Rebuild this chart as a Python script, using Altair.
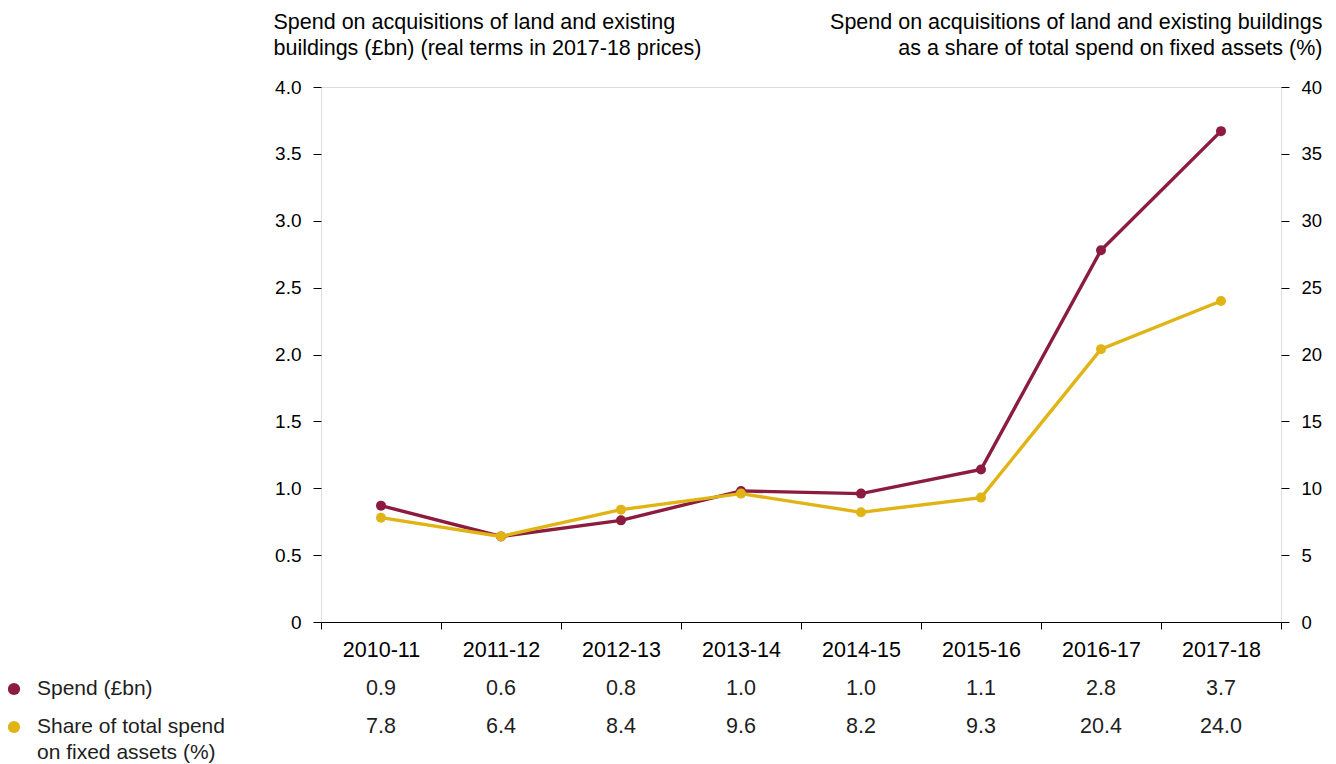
import altair as alt
import pandas as pd

years = ["2010-11", "2011-12", "2012-13", "2013-14", "2014-15", "2015-16", "2016-17", "2017-18"]
spend = [0.87, 0.64, 0.76, 0.98, 0.96, 1.14, 2.78, 3.67]
share = [7.8, 6.4, 8.4, 9.6, 8.2, 9.3, 20.4, 24.0]

series_names = ["Spend (£bn)", "Share of total spend\non fixed assets (%)"]
series_colors = ["#8C1C3F", "#E0B414"]

left_title = ["Spend on acquisitions of land and existing",
              "buildings (£bn) (real terms in 2017-18 prices)"]
right_title = ["Spend on acquisitions of land and existing buildings",
               "as a share of total spend on fixed assets (%)"]

FONT = "Liberation Sans"
TXT = "#1e1e1e"
BIG = 21.5

df = pd.DataFrame({"year": years, "spend": spend, "share": share})

xenc = alt.X(
    "year:N", sort=years,
    scale=alt.Scale(type="band", paddingInner=0, paddingOuter=0),
    axis=alt.Axis(title=None, labelAngle=0, tickBand="extent", tickSize=7,
                  labelPadding=10, domainColor="#000", tickColor="#000",
                  labelFontSize=BIG, grid=False),
)

base = alt.Chart(df)

spend_line = base.mark_line(
    color=series_colors[0], strokeWidth=3.4,
    point=alt.OverlayMarkDef(filled=True, size=100, color=series_colors[0], opacity=1),
).encode(
    x=xenc,
    y=alt.Y("spend:Q", scale=alt.Scale(domain=[0, 4], nice=False),
            axis=alt.Axis(title=left_title, values=[0, 0.5, 1, 1.5, 2, 2.5, 3, 3.5, 4],
                          labelExpr="datum.value == 0 ? '0' : format(datum.value, '.1f')",
                          domain=False, tickSize=8, tickColor="#000", labelPadding=12,
                          grid=False, orient="left", titleAngle=0, titleAlign="left",
                          titleBaseline="alphabetic", titleX=-48, titleY=-59,
                          titleLineHeight=26.5, titleFontSize=BIG, titleFontWeight="normal",
                          labelFontSize=19)),
)

share_line = base.mark_line(
    color=series_colors[1], strokeWidth=3.4,
    point=alt.OverlayMarkDef(filled=True, size=100, color=series_colors[1], opacity=1),
).encode(
    x=xenc,
    y=alt.Y("share:Q", scale=alt.Scale(domain=[0, 40], nice=False),
            axis=alt.Axis(title=right_title, values=[0, 5, 10, 15, 20, 25, 30, 35, 40],
                          format="d", domain=False, tickSize=8, tickColor="#000",
                          labelPadding=12, grid=False, orient="right", titleAngle=0,
                          titleAlign="right", titleBaseline="alphabetic", titleX=41,
                          titleY=-59, titleLineHeight=26.5, titleFontSize=BIG,
                          titleFontWeight="normal", labelFontSize=18.5)),
)

row1 = base.mark_text(fontSize=BIG, font=FONT, color=TXT, baseline="middle").encode(
    x=alt.X("year:N", sort=years), y=alt.value(602), text=alt.Text("spend:Q", format=".1f"))
row2 = base.mark_text(fontSize=BIG, font=FONT, color=TXT, baseline="middle").encode(
    x=alt.X("year:N", sort=years), y=alt.value(640), text=alt.Text("share:Q", format=".1f"))

leg_df = pd.DataFrame({"name": series_names, "color": series_colors})

leg_dot1 = alt.Chart(leg_df.iloc[[0]]).mark_circle(size=150, opacity=1).encode(
    x=alt.value(-307), y=alt.value(602), color=alt.Color("color:N", scale=None))
leg_dot2 = alt.Chart(leg_df.iloc[[1]]).mark_circle(size=150, opacity=1).encode(
    x=alt.value(-307), y=alt.value(640), color=alt.Color("color:N", scale=None))
leg_txt1 = alt.Chart(leg_df.iloc[[0]]).mark_text(
    fontSize=21, font=FONT, color=TXT, align="left", baseline="middle").encode(
    x=alt.value(-284), y=alt.value(602), text="name:N")
leg_txt2 = alt.Chart(leg_df.iloc[[1]]).mark_text(
    fontSize=21, font=FONT, color=TXT, align="left", baseline="middle", lineBreak="\n",
    lineHeight=26).encode(
    x=alt.value(-284), y=alt.value(640), text="name:N")

chart = alt.layer(
    spend_line, share_line, row1, row2, leg_dot1, leg_dot2, leg_txt1, leg_txt2
).resolve_scale(y="independent").properties(
    width=960, height=535,
    padding={"left": 313, "top": 79, "right": 47, "bottom": 142},
    autosize=alt.AutoSizeParams(type="none"),
).configure_view(stroke=None).configure_axis(
    labelFont=FONT, titleFont=FONT, labelColor=TXT, titleColor=TXT,
).configure(background="white")

chart.save("out.html", embed_options={"renderer": "svg", "actions": False})
